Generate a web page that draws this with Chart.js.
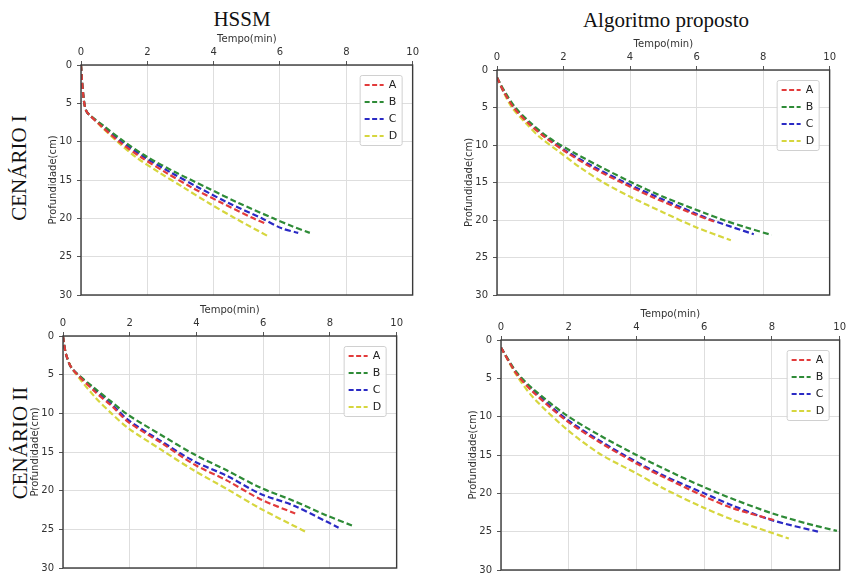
<!DOCTYPE html>
<html>
<head>
<meta charset="utf-8">
<script src="https://cdn.jsdelivr.net/npm/chart.js@4"></script>
<style>
  html, body { margin: 0; padding: 0; background: #fff; }
  body { width: 847px; height: 575px; position: relative; overflow: hidden; }
  canvas { position: absolute; }
  .big { position: absolute; font-family: "Liberation Serif", "Times New Roman", serif; font-size: 21px;
         line-height: 1; color: #111; white-space: nowrap; transform: translate(-50%, -50%); }
  .rot { transform: translate(-50%, -50%) rotate(-90deg); }
</style>
</head>
<body>
<div class="big" style="left:242px;top:19px">HSSM</div>
<div class="big" style="left:666px;top:20px">Algoritmo proposto</div>
<div class="big rot" style="left:19px;top:168px">CENÁRIO I</div>
<div class="big rot" style="left:20px;top:443px">CENÁRIO II</div>

<canvas id="c1"></canvas>
<canvas id="c2"></canvas>
<canvas id="c3"></canvas>
<canvas id="c4"></canvas>

<script>
// series labels and colours
const seriesLabels = ['A', 'B', 'C', 'D'];
const seriesColors = ['#e23b3b', '#2e8b37', '#2a2ac4', '#d6d63e'];
const xTicks = [0, 2, 4, 6, 8, 10];
const yTicks = [0, 5, 10, 15, 20, 25, 30];

// Cenário I - HSSM  (depth cm, time min)
const hssm1DepthA = [0, 2, 4, 5, 6, 6.5, 8, 10, 12, 14, 16, 18, 20, 20.7];
const hssm1TimeA  = [0, 0.03, 0.07, 0.1, 0.16, 0.25, 0.62, 1.15, 1.8, 2.55, 3.35, 4.25, 5.2, 5.57];
const hssm1DepthB = [0, 2, 4, 5, 6, 6.5, 8, 10, 12, 14, 16, 18, 20, 21, 21.9];
const hssm1TimeB  = [0, 0.03, 0.07, 0.1, 0.16, 0.25, 0.7, 1.3, 2.0, 2.85, 3.8, 4.75, 5.8, 6.35, 6.9];
const hssm1DepthC = [0, 2, 4, 5, 6, 6.5, 8, 10, 12, 14, 16, 18, 20, 21.3, 21.9];
const hssm1TimeC  = [0, 0.03, 0.07, 0.1, 0.16, 0.25, 0.66, 1.22, 1.9, 2.7, 3.55, 4.45, 5.45, 6.05, 6.55];
const hssm1DepthD = [0, 2, 4, 5, 6, 7, 8, 10, 12, 14, 16, 18, 20, 22.4];
const hssm1TimeD  = [0, 0.03, 0.07, 0.1, 0.16, 0.38, 0.6, 1.1, 1.65, 2.35, 3.1, 3.85, 4.65, 5.67];

// Cenário I - Algoritmo proposto
const alg1DepthA = [1, 3, 5, 7, 9, 11, 13, 15, 17, 19, 20.3];
const alg1TimeA  = [0, 0.22, 0.5, 0.92, 1.45, 2.1, 2.85, 3.75, 4.7, 5.8, 6.58];
const alg1DepthB = [1, 3, 5, 7, 9, 11, 13, 15, 17, 19, 20, 21, 22];
const alg1TimeB  = [0, 0.25, 0.55, 1.0, 1.55, 2.3, 3.15, 4.05, 5.05, 6.2, 6.8, 7.5, 8.25];
const alg1DepthC = [1, 3, 5, 7, 9, 11, 13, 15, 17, 19, 20, 21.9];
const alg1TimeC  = [0, 0.22, 0.52, 0.95, 1.5, 2.15, 2.95, 3.85, 4.85, 5.9, 6.45, 7.72];
const alg1DepthD = [1, 3, 5, 7, 9, 11, 13, 15, 17, 19, 21, 22.7];
const alg1TimeD  = [0, 0.2, 0.45, 0.85, 1.3, 1.9, 2.5, 3.2, 4.05, 5.0, 6.0, 7.03];

// Cenário II - HSSM
const hssm2DepthA = [0, 1, 2.5, 4.2, 7.2, 9.2, 11.1, 13.8, 16.6, 18.7, 21.1, 22.95];
const hssm2TimeA  = [0, 0.03, 0.1, 0.27, 0.96, 1.5, 1.95, 2.94, 3.93, 4.92, 5.91, 6.96];
const hssm2DepthB = [0, 1, 2.5, 4.2, 6.8, 8.5, 10.2, 12.8, 15.3, 17.4, 19.6, 21.3, 23.2, 24.5];
const hssm2TimeB  = [0, 0.03, 0.1, 0.27, 0.96, 1.45, 1.95, 2.94, 3.93, 4.92, 5.91, 6.9, 7.9, 8.66];
const hssm2DepthC = [0, 1, 2.5, 4.2, 7.0, 9.0, 10.85, 13.6, 16.2, 18.1, 20.4, 21.9, 24.0, 24.8];
const hssm2TimeC  = [0, 0.03, 0.1, 0.27, 0.96, 1.5, 1.95, 2.94, 3.93, 4.92, 5.91, 6.9, 7.9, 8.26];
const hssm2DepthD = [0, 1, 2.5, 4.2, 7.9, 10.0, 11.9, 14.7, 17.4, 19.8, 22.3, 25.4];
const hssm2TimeD  = [0, 0.03, 0.1, 0.27, 0.96, 1.45, 1.95, 2.94, 3.93, 4.92, 5.91, 7.31];

// Cenário II - Algoritmo proposto
const alg2DepthA = [1, 4.4, 6.8, 10.5, 13.3, 16.1, 18.0, 20.4, 21.9, 23.5];
const alg2TimeA  = [0, 0.46, 0.95, 1.93, 2.9, 4.0, 4.86, 6.0, 6.82, 8.06];
const alg2DepthB = [1, 4.2, 6.4, 9.8, 12.4, 15.0, 16.9, 19.2, 21.0, 22.6, 23.9, 24.9];
const alg2TimeB  = [0, 0.46, 0.95, 1.93, 2.9, 4.0, 4.86, 6.0, 7.0, 8.0, 9.0, 9.92];
const alg2DepthC = [1, 4.3, 6.6, 10.3, 13.1, 15.9, 17.8, 20.0, 21.7, 23.5, 25.0];
const alg2TimeC  = [0, 0.46, 0.95, 1.93, 2.9, 4.0, 4.86, 6.0, 6.9, 8.0, 9.36];
const alg2DepthD = [1, 4.6, 7.5, 11.6, 14.8, 17.4, 19.5, 21.9, 23.4, 25.0, 25.9];
const alg2TimeD  = [0, 0.46, 0.95, 1.93, 2.9, 4.0, 4.86, 6.0, 6.82, 7.9, 8.5];

// plot areas on the page: left, top, right, bottom
const panels = [
    {id: 'c1', area: [81, 65, 414, 298], depth: [hssm1DepthA, hssm1DepthB, hssm1DepthC, hssm1DepthD], time: [hssm1TimeA, hssm1TimeB, hssm1TimeC, hssm1TimeD]},
    {id: 'c2', area: [497, 70, 831, 298], depth: [alg1DepthA, alg1DepthB, alg1DepthC, alg1DepthD], time: [alg1TimeA, alg1TimeB, alg1TimeC, alg1TimeD]},
    {id: 'c3', area: [63, 336, 398, 571], depth: [hssm2DepthA, hssm2DepthB, hssm2DepthC, hssm2DepthD], time: [hssm2TimeA, hssm2TimeB, hssm2TimeC, hssm2TimeD]},
    {id: 'c4', area: [501, 340, 841, 573], depth: [alg2DepthA, alg2DepthB, alg2DepthC, alg2DepthD], time: [alg2TimeA, alg2TimeB, alg2TimeC, alg2TimeD]}
];

const Y_W = 38, X_H = 36, PAD_R = 8, PAD_B = 8;
const tickFont = {family: 'DejaVu Sans', size: 10};

// frame around the plot
const framePlugin = {
    id: 'frame',
    afterDatasetsDraw(chart) {
        const a = chart.chartArea, ctx = chart.ctx;
        ctx.save();
        ctx.strokeStyle = '#3a3a3a';
        ctx.lineWidth = 1.4;
        ctx.strokeRect(a.left, a.top, a.right - a.left, a.bottom - a.top);
        ctx.restore();
    }
};

// matplotlib-like legend in the upper right corner
const boxLegend = {
    id: 'boxLegend',
    afterDraw(chart) {
        const a = chart.chartArea, ctx = chart.ctx;
        const w = 42, h = 70;
        const x = a.right - 11 - w, y = a.top + 10;
        ctx.save();
        ctx.fillStyle = 'rgba(255,255,255,0.9)';
        ctx.strokeStyle = '#d0d0d0';
        ctx.lineWidth = 1;
        ctx.beginPath();
        ctx.roundRect(x + 0.5, y + 0.5, w, h, 2);
        ctx.fill();
        ctx.stroke();
        ctx.font = '11px "DejaVu Sans"';
        ctx.textBaseline = 'middle';
        chart.data.datasets.forEach((ds, i) => {
            const ly = y + 10 + i * 17;
            ctx.strokeStyle = ds.borderColor;
            ctx.lineWidth = 2.2;
            ctx.setLineDash([5, 2.5]);
            ctx.beginPath();
            ctx.moveTo(x + 5, ly);
            ctx.lineTo(x + 24, ly);
            ctx.stroke();
            ctx.setLineDash([]);
            ctx.fillStyle = '#222';
            ctx.fillText(ds.label, x + 29, ly + 0.5);
        });
        ctx.restore();
    }
};

panels.forEach(p => {
    const [L, T, R, B] = p.area;
    const cv = document.getElementById(p.id);
    cv.width = R - L + Y_W + PAD_R;
    cv.height = B - T + X_H + PAD_B;
    cv.style.left = (L - Y_W) + 'px';
    cv.style.top = (T - X_H) + 'px';

    const datasets = seriesLabels.map((lab, i) => ({
        label: lab,
        data: p.time[i].map((t, k) => ({x: t, y: p.depth[i][k]})),
        showLine: true,
        borderColor: seriesColors[i],
        backgroundColor: seriesColors[i],
        borderWidth: 2.2,
        borderDash: [6, 3],
        pointRadius: 0,
        tension: 0.3
    }));

    new Chart(cv, {
        type: 'scatter',
        data: {datasets: datasets},
        options: {
            responsive: false,
            animation: false,
            layout: {padding: {left: 0, top: 0, right: PAD_R, bottom: PAD_B}},
            plugins: {legend: {display: false}, tooltip: {enabled: false}},
            scales: {
                x: {
                    type: 'linear',
                    position: 'top',
                    min: xTicks[0],
                    max: xTicks[xTicks.length - 1],
                    afterBuildTicks: s => { s.ticks = xTicks.map(v => ({value: v})); },
                    afterFit: s => { s.height = X_H; },
                    ticks: {font: tickFont, color: '#333', padding: 3, maxRotation: 0},
                    grid: {color: '#dedede', tickColor: '#555', tickLength: 4},
                    border: {display: false},
                    title: {display: true, text: 'Tempo(min)', font: tickFont, color: '#333'}
                },
                y: {
                    type: 'linear',
                    reverse: true,
                    min: yTicks[0],
                    max: yTicks[yTicks.length - 1],
                    afterBuildTicks: s => { s.ticks = yTicks.map(v => ({value: v})); },
                    afterFit: s => { s.width = Y_W; },
                    ticks: {font: tickFont, color: '#333', padding: 5},
                    grid: {color: '#dedede', tickColor: '#555', tickLength: 4},
                    border: {display: false},
                    title: {display: true, text: 'Profundidade(cm)', font: tickFont, color: '#333'}
                }
            }
        },
        plugins: [framePlugin, boxLegend]
    });
});
</script>
</body>
</html>
